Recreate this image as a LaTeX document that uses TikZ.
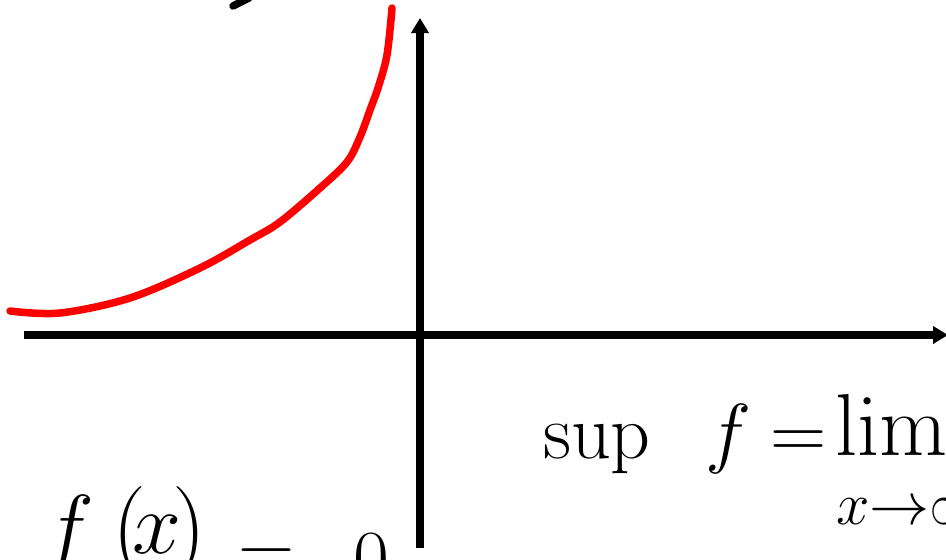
\RequirePackage{fix-cm}
\documentclass[tikz,border=0pt]{standalone}
\usetikzlibrary{arrows.meta}
\begin{document}
\begin{tikzpicture}[x=1pt,y=-1pt,
  axis/.style={line width=7.5pt,-{Triangle[length=15pt,width=17pt]}},
  curve/.style={red,line width=7.5pt,line cap=round,line join=round},
  hw/.style={inner sep=0pt,anchor=base west,font=\fontsize{78}{90}\selectfont},
  hwl/.style={inner sep=0pt,anchor=base west,font=\fontsize{88}{100}\selectfont},
  hwp/.style={inner sep=0pt,anchor=base west,font=\fontsize{96}{110}\selectfont},
  hws/.style={inner sep=0pt,anchor=base west,font=\fontsize{60}{70}\selectfont}]
\useasboundingbox (0,0) rectangle (946,560);
\clip (0,0) rectangle (946,560);
% axes
\coordinate (xs) at (24,335);
\coordinate (xe) at (948,335);
\coordinate (ys) at (420,548);
\coordinate (ye) at (420,18);
\draw[axis] (xs) -- (xe);
\draw[axis] (ys) -- (ye);
% red curve
\draw[curve] plot[smooth,tension=0.55] coordinates {(10,311) (60,313) (130,298) (200,268) (250,240) (280,222) (320,188) (347,162) (360,137) (370,110) (378,88) (387,55) (392,8)};
% small stroke at top
\coordinate (s1) at (233,6);
\coordinate (s2) at (249,-2);
\draw[line width=7.5pt,line cap=round] (s1) -- (s2);
% labels
\node[hw] (sup) at (543,458) {$\mathrm{sup}$};
\node[hw] (f1) at (705,458) {$f$};
\node[hw] (eq1) at (770,458) {$=$};
\node[hwl] (lim) at (835,455) {$\mathrm{lim}$};
\node[hws] (sub) at (836,524) {$x{\to}\infty$};
\node[hwl] (f2) at (42,556) {$f$};
\node[hwp] (pl) at (112,558) {$($};
\node[hwl] (x2) at (132,553) {$x$};
\node[hwp] (pr) at (172,558) {$)$};
\node[hw] (eq2) at (238,576) {$=$};
\node[hw] (zero) at (353,584) {$0$};
\end{tikzpicture}
\end{document}
